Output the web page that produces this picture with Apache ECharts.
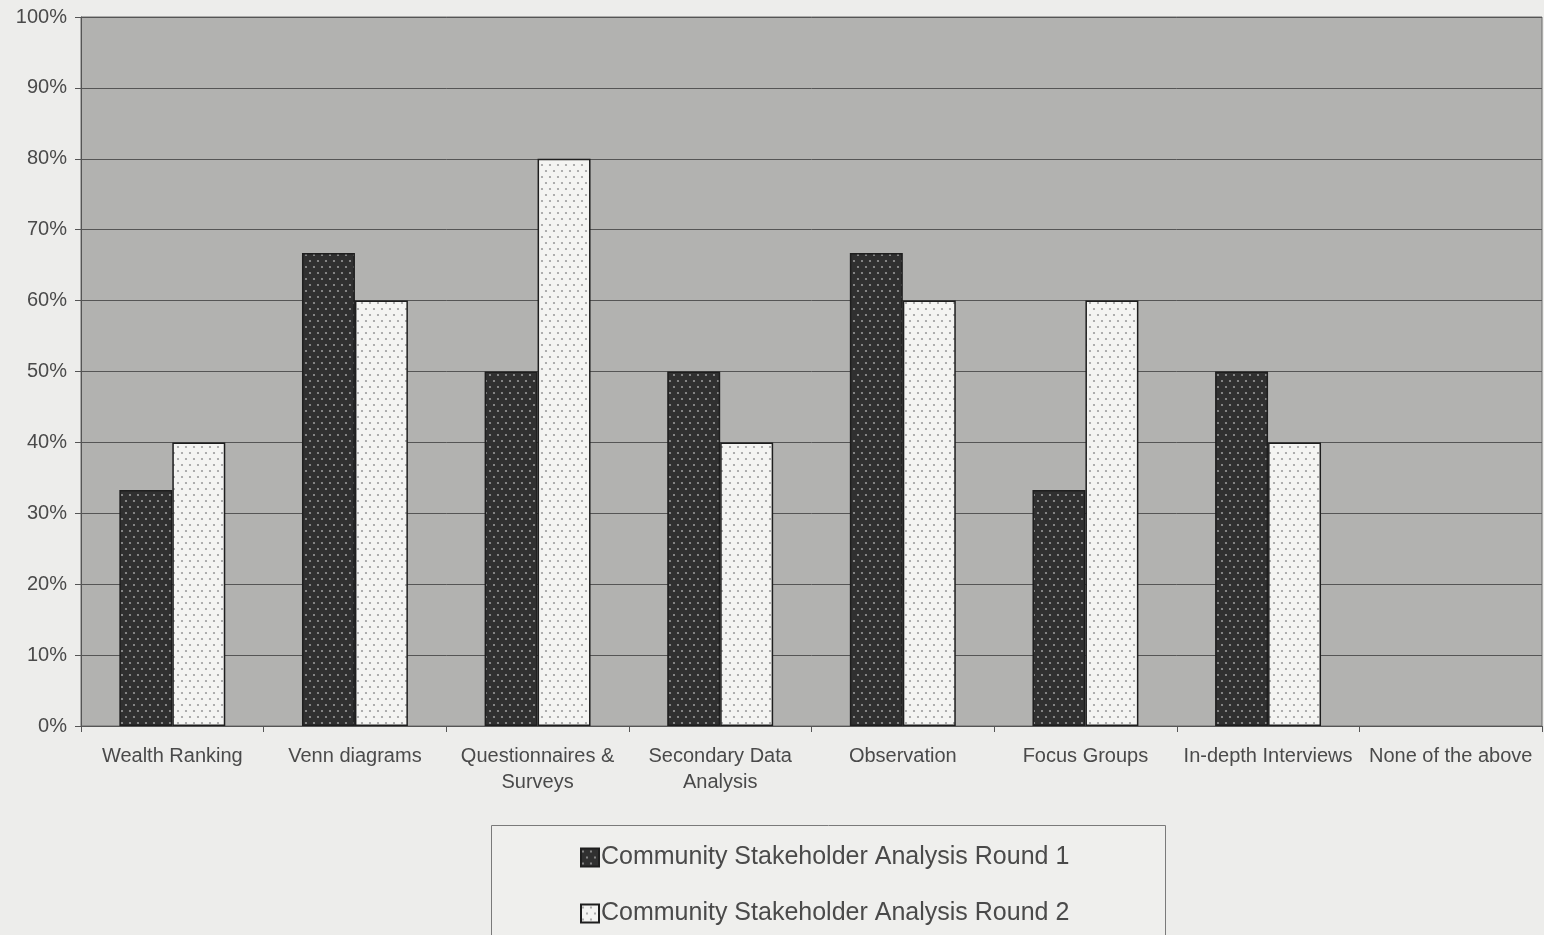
<!DOCTYPE html>
<html>
<head>
<meta charset="utf-8">
<script src="https://cdn.jsdelivr.net/npm/echarts@6/dist/echarts.min.js"></script>
<style>
html,body{margin:0;padding:0;background:#ededeb;}
#chart{width:1544px;height:935px;}
</style>
</head>
<body>
<div id="chart"></div>
<script>
// Survey: share of respondents using each participatory method
const categories = ['Wealth Ranking', 'Venn diagrams', 'Questionnaires &\nSurveys', 'Secondary Data\nAnalysis', 'Observation', 'Focus Groups', 'In-depth Interviews', 'None of the above'];
const round1 = [33.3, 66.7, 50, 50, 66.7, 33.3, 50, 0];
const round2 = [40, 60, 80, 40, 60, 60, 40, 0];
const seriesNames = ['Community Stakeholder Analysis Round 1', 'Community Stakeholder Analysis Round 2'];
const yTicks = [0, 10, 20, 30, 40, 50, 60, 70, 80, 90, 100];

// Staggered dot fill patterns for the two rounds
function dotPattern(bg, dot) {
  const c = document.createElement('canvas');
  c.width = 8; c.height = 12;
  const g = c.getContext('2d');
  g.fillStyle = bg; g.fillRect(0, 0, 8, 12);
  g.fillStyle = dot;
  g.beginPath(); g.arc(2, 3, 1.1, 0, Math.PI * 2); g.fill();
  g.beginPath(); g.arc(6, 9, 1.1, 0, Math.PI * 2); g.fill();
  return c;
}
const darkFill = { image: dotPattern('#303030', '#9a9a9a'), repeat: 'repeat' };
const lightFill = { image: dotPattern('#f4f4f2', '#9c9c9c'), repeat: 'repeat' };

// Zero-height bars leave no outline
const toItems = arr => arr.map(v => v === 0 ? { value: v, itemStyle: { borderWidth: 0 } } : v);

const textColor = '#4a4a4a';
const font = 'Liberation Sans, Arial';
const chart = echarts.init(document.getElementById('chart'));
chart.setOption({
  backgroundColor: '#ededeb',
  animation: false,
  grid: { left: 81, right: 2, top: 17, bottom: 209, show: true, backgroundColor: '#b2b2b0', borderColor: '#6a6a6a', borderWidth: 1 },
  xAxis: {
    type: 'category',
    data: categories,
    axisLine: { lineStyle: { color: '#555', width: 1 } },
    axisTick: { show: true, length: 6, lineStyle: { color: '#555' } },
    axisLabel: { color: textColor, fontFamily: font, fontSize: 20, margin: 17, lineHeight: 26, interval: 0 }
  },
  yAxis: {
    type: 'value', min: 0, max: 100, interval: 10,
    axisLine: { show: true, lineStyle: { color: '#555', width: 1 } },
    axisTick: { show: true, length: 6, lineStyle: { color: '#555' } },
    splitLine: { lineStyle: { color: '#555', width: 1 } },
    axisLabel: { color: textColor, fontFamily: font, fontSize: 20, margin: 14,
      formatter: v => yTicks.includes(v) ? v + '%' : '' }
  },
  legend: {
    orient: 'vertical',
    left: 575, top: 840,
    itemGap: 31,
    itemWidth: 18, itemHeight: 18,
    icon: 'rect',
    textStyle: { color: textColor, fontFamily: font, fontSize: 25, padding: [0, 0, 0, -3] },
    data: seriesNames
  },
  graphic: [{
    type: 'rect', left: 491, top: 825, z: -1,
    shape: { width: 674, height: 130 },
    style: { fill: '#efefed', stroke: '#7a7a7a', lineWidth: 1 }
  }],
  series: [
    { name: seriesNames[0], type: 'bar', data: toItems(round1), barGap: '0%', barCategoryGap: '42%',
      itemStyle: { color: darkFill, borderColor: '#1e1e1e', borderWidth: 1.5 } },
    { name: seriesNames[1], type: 'bar', data: toItems(round2),
      itemStyle: { color: lightFill, borderColor: '#1e1e1e', borderWidth: 1.5 } }
  ]
});
</script>
</body>
</html>
